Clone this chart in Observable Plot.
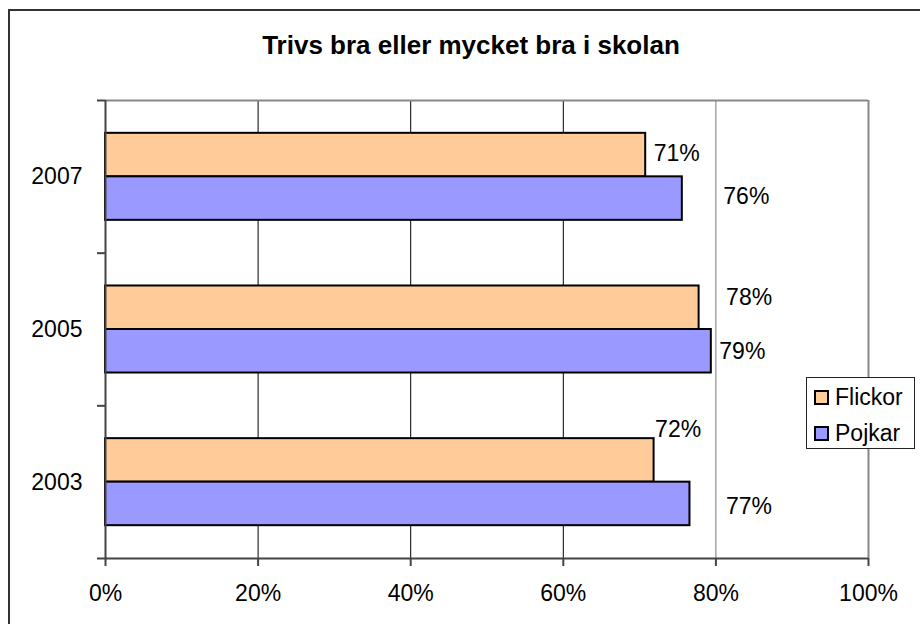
<!DOCTYPE html>
<html><head><meta charset="utf-8">
<script src="https://cdn.jsdelivr.net/npm/d3@7"></script>
<script src="https://cdn.jsdelivr.net/npm/@observablehq/plot@0.6"></script>
<style>
html,body{margin:0;padding:0;background:#fff;overflow:hidden;}
#wrap{position:relative;width:920px;height:624px;overflow:hidden;font-family:"Liberation Sans",Arial,sans-serif;background:#fff;}
#frame{position:absolute;left:8px;top:9px;width:1000px;height:1000px;border:2px solid #333;}
#title{position:absolute;left:0;top:30px;width:942px;text-align:center;font-size:26px;font-weight:bold;line-height:30px;color:#000;}
#chart{position:absolute;left:0;top:0;}
#legend{position:absolute;left:806px;top:377px;width:107px;height:70px;border:1px solid #222;background:#fff;}
#legend .row{position:absolute;left:7px;height:36px;display:flex;align-items:center;font-size:23px;color:#000;white-space:nowrap;}
#legend .sw{display:inline-block;width:11px;height:11px;border:2px solid #000;margin-right:6px;}
</style></head>
<body>
<div id="wrap">
  <div id="frame"></div>
  <div id="chart"></div>
  <div id="title">Trivs bra eller mycket bra i skolan</div>
  <div id="legend"></div>
</div>
<script>
// ---- data ----
const years = ["2007", "2005", "2003"];
const series = ["Flickor", "Pojkar"];
const flickor = [70.8, 77.8, 71.9];
const pojkar = [75.6, 79.4, 76.6];
const xTicks = [0, 20, 40, 60, 80, 100];
const colors = ["#FFCC99", "#9999FF"];

// ---- layout constants (not data) ----
const barTop = 0.215, barH = 0.285;
// per-label nudges (px) matching the reference's hand-placed labels
const nudges = [[8, -1], [41, -2], [27, -10], [8, 0], [1, -31], [36, 3]];

const rows = years.flatMap((yr, i) => series.map((s, j) => ({
  year: yr, series: s, i, j, value: (j === 0 ? flickor : pojkar)[i]
})));

const labelMarks = rows.map((d, k) => Plot.text([d], {
  x: "value",
  y: r => r.i + barTop + (r.j + 0.5) * barH,
  text: r => Math.round(r.value) + "%",
  textAnchor: "start",
  dx: nudges[k][0], dy: nudges[k][1],
  fill: "#000", fontSize: 23
}));

const chart = Plot.plot({
  width: 920, height: 624,
  marginLeft: 105, marginRight: 52, marginTop: 100, marginBottom: 66,
  style: {fontFamily: '"Liberation Sans", Arial, sans-serif', fontSize: "23px", color: "#000", background: "transparent"},
  x: {domain: [0, 100], label: null},
  y: {domain: [0, 3], reverse: true, label: null},
  color: {domain: series, range: colors},
  marks: [
    Plot.gridX([20, 40, 60], {stroke: "#000", strokeOpacity: 1, strokeWidth: 1}),
    Plot.gridX([80], {stroke: "#777", strokeOpacity: 1, strokeWidth: 1}),
    Plot.ruleY([0], {stroke: "#888", strokeWidth: 2}),
    Plot.ruleX([100], {stroke: "#888", strokeWidth: 2}),
    Plot.rectX(rows, {
      x1: 0, x2: "value",
      y1: d => d.i + barTop + d.j * barH,
      y2: d => d.i + barTop + (d.j + 1) * barH,
      fill: "series", stroke: "#000", strokeWidth: 2
    }),
    Plot.ruleX([0], {stroke: "#444", strokeWidth: 2}),
    Plot.ruleY([3], {stroke: "#444", strokeWidth: 2}),
    Plot.axisX(xTicks, {tickSize: 8, tickPadding: 18, tickFormat: d => d + "%", stroke: "#444", strokeWidth: 2, fontSize: 23, label: null}),
    Plot.axisY([0, 1, 2, 3], {tickSize: 8, tickFormat: () => "", stroke: "#444", strokeWidth: 2, label: null}),
    Plot.axisY([0.5, 1.5, 2.5], {tickSize: 0, tickPadding: 23, tickFormat: d => years[Math.floor(d)], fontSize: 23, label: null}),
    ...labelMarks
  ]
});
document.getElementById("chart").appendChild(chart);

const legend = document.getElementById("legend");
const rowTops = [1, 37];
series.forEach((s, j) => {
  const r = document.createElement("div");
  r.className = "row";
  r.style.top = rowTops[j] + "px";
  const sw = document.createElement("span");
  sw.className = "sw";
  sw.style.background = colors[j];
  r.appendChild(sw);
  r.appendChild(document.createTextNode(s));
  legend.appendChild(r);
});
</script>
</body></html>
